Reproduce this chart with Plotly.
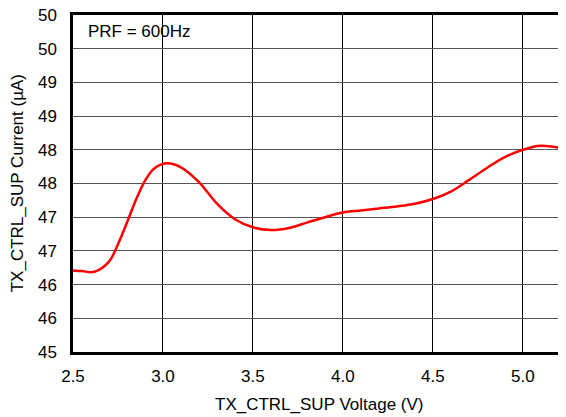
import plotly.graph_objects as go

voltage = [2.5, 2.55, 2.62, 2.7, 2.75, 2.8, 2.85, 2.9, 2.95, 3.02, 3.1, 3.2, 3.3, 3.4, 3.5,
           3.6, 3.7, 3.8, 3.9, 4.0, 4.1, 4.2, 4.3, 4.4, 4.5, 4.6, 4.7, 4.8, 4.9, 5.0,
           5.1, 5.24]
current = [46.21, 46.20, 46.19, 46.34, 46.6, 46.92, 47.26, 47.54, 47.72, 47.80, 47.74, 47.52,
           47.2, 46.97, 46.85, 46.81, 46.84, 46.92, 47.0, 47.07, 47.10, 47.13, 47.16, 47.2,
           47.27, 47.38, 47.55, 47.73, 47.89, 48.0, 48.06, 48.01]

x_ticks = [2.5, 3.0, 3.5, 4.0, 4.5, 5.0]
x_ticktext = ["2.5", "3.0", "3.5", "4.0", "4.5", "5.0"]
y_ticks = [45, 45.5, 46, 46.5, 47, 47.5, 48, 48.5, 49, 49.5, 50]
y_ticktext = ["45", "46", "46", "47", "47", "48", "48", "49", "49", "50", "50"]

font = "Liberation Sans, Arial, sans-serif"

fig = go.Figure()
fig.add_trace(go.Scatter(x=voltage, y=current, mode="lines",
                         line=dict(color="#ff0000", width=2.5, shape="spline", smoothing=1.0),
                         showlegend=False, hoverinfo="skip"))

fig.add_shape(type="rect", xref="x", yref="y", x0=2.5, x1=3.25, y0=49.47, y1=50,
              fillcolor="white", line=dict(width=0), layer="below")
fig.add_annotation(x=2.57, y=49.76, xref="x", yref="y", text="PRF = 600Hz",
                   showarrow=False, xanchor="left", yanchor="middle",
                   font=dict(family=font, size=17, color="black"))

fig.add_annotation(x=0.5, y=-0.157, xref="paper", yref="paper", text="TX_CTRL_SUP Voltage (V)",
                   showarrow=False, xanchor="center", yanchor="middle",
                   font=dict(family=font, size=17, color="black"))
fig.add_annotation(x=-0.112, y=0.5, xref="paper", yref="paper", text="TX_CTRL_SUP Current (µA)",
                   showarrow=False, xanchor="center", yanchor="middle", textangle=-90,
                   font=dict(family=font, size=17, color="black"))

fig.update_layout(
    width=558, height=409,
    margin=dict(l=65, r=0, t=7, b=65, autoexpand=False),
    paper_bgcolor="white", plot_bgcolor="white",
    font=dict(family=font, size=17, color="black"),
    xaxis=dict(range=[2.5, 5.24], tickvals=x_ticks, ticktext=x_ticktext,
               showgrid=True, gridcolor="#000000", gridwidth=1,
               showline=True, linecolor="black", linewidth=2.5, mirror=True,
               ticks="", ticklen=0, zeroline=False, automargin=False,
               ticklabelstandoff=7, ticklabeloverflow="allow"),
    yaxis=dict(range=[45, 50], tickvals=y_ticks, ticktext=y_ticktext,
               showgrid=True, gridcolor="#555555", gridwidth=1,
               showline=True, linecolor="black", linewidth=2.5, mirror=False,
               ticks="", ticklen=0, zeroline=False, automargin=False,
               ticklabelstandoff=10, ticklabeloverflow="allow"),
)

fig.write_html("out.html")
